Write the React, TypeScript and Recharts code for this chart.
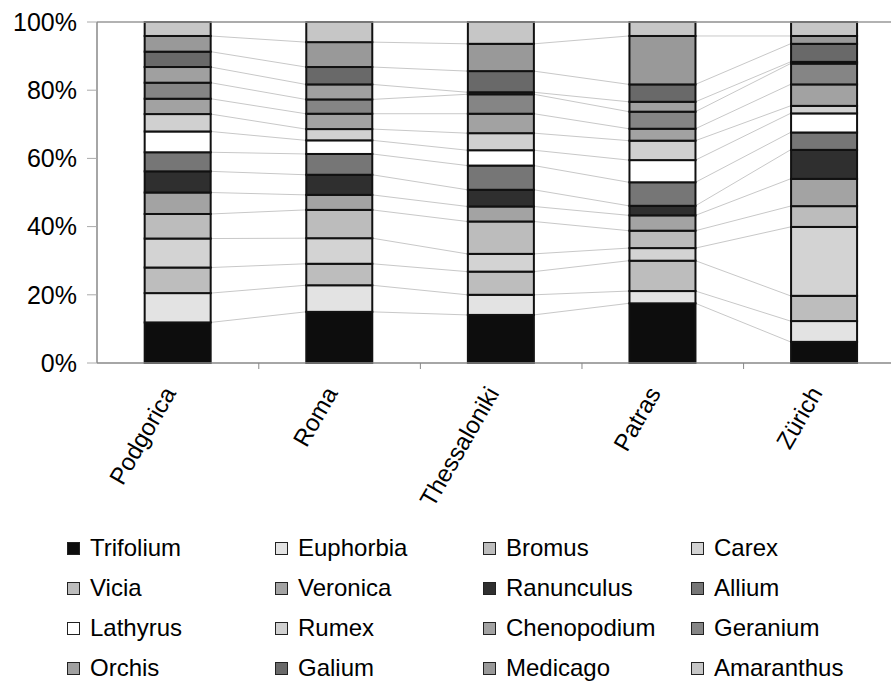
import { BarChart, Bar, XAxis, YAxis, Legend, ReferenceLine } from "recharts";

const cities = ["Podgorica", "Roma", "Thessaloniki", "Patras", "Zürich"];

// share of each genus per city, %, bottom of the stack first
const trifolium = [11.9, 15.0, 14.1, 17.5, 6.2];
const euphorbia = [8.6, 7.8, 5.9, 3.6, 6.1];
const bromus = [7.5, 6.3, 6.8, 8.9, 7.4];
const carex = [8.5, 7.5, 5.2, 3.7, 20.2];
const vicia = [7.2, 8.3, 9.5, 5.1, 6.1];
const veronica = [6.3, 4.4, 4.4, 4.5, 8.0];
const ranunculus = [6.2, 5.9, 4.9, 2.8, 8.5];
const allium = [5.6, 6.1, 7.1, 6.9, 5.1];
const lathyrus = [6.1, 4.0, 4.5, 6.5, 5.6];
const rumex = [5.1, 3.3, 5.0, 5.7, 2.2];
const chenopodium = [4.5, 4.5, 5.7, 3.5, 6.3];
const geranium = [4.7, 4.2, 5.7, 5.0, 6.1];
const orchis = [4.6, 4.4, 0.6, 2.9, 0.5];
const galium = [4.5, 5.1, 6.2, 5.1, 5.3];
const medicago = [4.6, 7.3, 8.0, 14.2, 2.3];
const amaranthus = [4.1, 5.9, 6.4, 4.1, 4.1];

const yTicks = [0, 20, 40, 60, 80, 100];

const seriesNames = [
  "Trifolium", "Euphorbia", "Bromus", "Carex",
  "Vicia", "Veronica", "Ranunculus", "Allium",
  "Lathyrus", "Rumex", "Chenopodium", "Geranium",
  "Orchis", "Galium", "Medicago", "Amaranthus",
];
const seriesValues = [
  trifolium, euphorbia, bromus, carex,
  vicia, veronica, ranunculus, allium,
  lathyrus, rumex, chenopodium, geranium,
  orchis, galium, medicago, amaranthus,
];
const colors = [
  "#0d0d0d", "#e3e3e3", "#bdbdbd", "#d3d3d3",
  "#bcbcbc", "#a3a3a3", "#2f2f2f", "#767676",
  "#ffffff", "#d0d0d0", "#a2a2a2", "#858585",
  "#a0a0a0", "#696969", "#999999", "#c6c6c6",
];

const data = cities.map((city, i) => {
  const row: Record<string, string | number> = { city };
  seriesNames.forEach((name, s) => (row[name] = seriesValues[s][i]));
  return row;
});

const cumTop = (s: number, i: number) => {
  let sum = 0;
  for (let k = 0; k <= s; k++) sum += seriesValues[k][i];
  return sum;
};

const GAP = 0.295;
const FONT = "'Liberation Sans', Arial, sans-serif";

const makeShape = (s: number) => (props: any) => {
  const { x, y, width, height, index } = props;
  const frac = seriesValues[s][index] / 100;
  const plotH = props.background?.height ?? height / frac;
  const base = props.background ? props.background.y + plotH : y + height + (cumTop(s, index) / 100 - frac) * plotH;
  const step = width / (1 - 2 * GAP);
  const hasNext = index + 1 < cities.length;
  return (
    <g>
      {hasNext && (
        <line
          x1={x + width}
          y1={y}
          x2={x + step}
          y2={base - (cumTop(s, index + 1) / 100) * plotH}
          stroke="#c8c8c8"
          strokeWidth={1}
        />
      )}
      <rect x={x} y={y} width={width} height={height} fill={colors[s]} stroke="#111" strokeWidth={2} />
      {s === 0 && index > 0 && (
        <line x1={x - (step - width) / 2} y1={base} x2={x - (step - width) / 2} y2={base + 6} stroke="#888" strokeWidth={1} />
      )}
    </g>
  );
};

const CityTick = (props: any) => {
  const { x, y, payload } = props;
  return (
    <g transform={`translate(${x - 1},${y + 22})`}>
      <text x={0} y={0} textAnchor="end" transform="rotate(-60)" fontSize={24} fontFamily={FONT} fill="#000">
        {payload.value}
      </text>
    </g>
  );
};

const LegendGrid = () => (
  <div style={{ display: "grid", gridTemplateColumns: "repeat(4, 208px)", fontFamily: FONT, fontSize: 24, color: "#000" }}>
    {seriesNames.map((name, s) => (
      <div key={name} style={{ display: "flex", alignItems: "center", height: 40 }}>
        <span
          style={{
            display: "inline-block",
            width: 11,
            height: 11,
            background: colors[s],
            border: "1.5px solid #222",
            marginRight: 10,
          }}
        />
        <span>{name}</span>
      </div>
    ))}
  </div>
);

export default function App() {
  return (
    <div style={{ position: "fixed", left: 0, top: 0, width: 891, height: 681, overflow: "hidden", background: "#fff" }}>
      <BarChart
        width={905}
        height={681}
        data={data}
        margin={{ top: 22, right: 0, bottom: 148, left: 17 }}
        barCategoryGap={`${GAP * 100}%`}
      >
        <ReferenceLine y={100} stroke="#999" strokeWidth={1.5} />
        <XAxis
          dataKey="city"
          height={170}
          tickLine={false}
          axisLine={{ stroke: "#888", strokeWidth: 1.5 }}
          tick={<CityTick />}
          interval={0}
        />
        <YAxis
          width={80}
          domain={[0, 100]}
          ticks={yTicks}
          tickFormatter={(v) => `${v}%`}
          tickSize={10}
          tickMargin={10}
          axisLine={{ stroke: "#888", strokeWidth: 1.5 }}
          tickLine={{ stroke: "#aaa" }}
          tick={{ fontSize: 25, fontFamily: FONT, fill: "#000" }}
        />
        {seriesNames.map((name, s) => (
          <Bar
            key={name}
            dataKey={name}
            stackId="a"
            fill={colors[s]}
            shape={makeShape(s)}
            isAnimationActive={false}
          />
        ))}
        <Legend
          layout="horizontal"
          verticalAlign="middle"
          align="center"
          content={<LegendGrid />}
          wrapperStyle={{ top: 528, left: 67, width: 840 }}
        />
      </BarChart>
    </div>
  );
}
